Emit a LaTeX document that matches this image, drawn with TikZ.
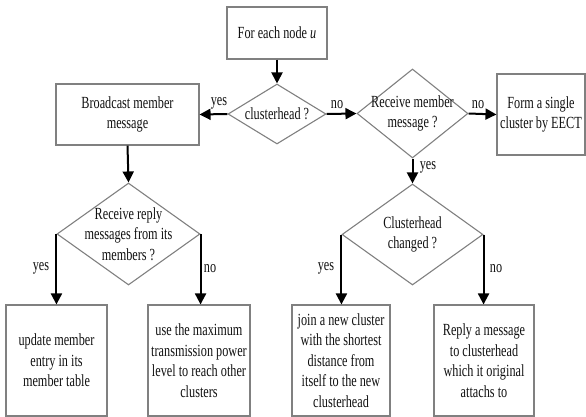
\documentclass[tikz,border=0pt]{standalone}
\usepackage{fontspec}
\setmainfont{Liberation Serif}[FakeStretch=0.72]
\usetikzlibrary{shapes.geometric,arrows.meta}
\definecolor{boxgray}{HTML}{808080}
\definecolor{txtc}{HTML}{111111}
\begin{document}
\begin{tikzpicture}[x=1pt,y=-1pt,
  box/.style={draw=boxgray, line width=1.1pt, rectangle, inner sep=0pt, align=center,
    text=txtc, font=\fontsize{17}{20.5}\selectfont},
  dia/.style={draw=boxgray, line width=1.1pt, diamond, inner sep=0pt},
  txt/.style={align=center, inner sep=0pt, text=txtc, font=\fontsize{17}{20.5}\selectfont},
  arr/.style={draw=black, line width=2pt, -{Triangle[length=11pt,width=11pt]}},
  lab/.style={inner sep=0pt, text=txtc, font=\fontsize{17}{20}\selectfont}]
\useasboundingbox (0,0) rectangle (586,417);

% rectangles
\node[box, minimum width=100pt, minimum height=52pt] (start) at (277,33) {For each node \textit{u}};
\node[box, minimum width=143pt, minimum height=61pt] (bcast) at (127.5,114.5) {Broadcast member\\message};
\node[box, minimum width=88pt, minimum height=81pt] (form) at (541,114.5) {Form a single\\cluster by EECT};
\node[box, minimum width=101pt, minimum height=111pt] (upd) at (56.5,360.5) {update member\\entry in its\\member table};
\node[box, minimum width=102pt, minimum height=111pt] (maxp) at (199,360.5) {use the maximum\\transmission power\\level to reach other\\clusters};
\node[box, minimum width=98pt, minimum height=111pt] (join) at (341,360.5) {join a new cluster\\with the shortest\\distance from\\itself to the new\\clusterhead};
\node[box, minimum width=100pt, minimum height=111pt] (reply) at (484,360.5) {Reply a message\\to clusterhead\\which it original\\attachs to};

% diamonds
\node[dia, minimum width=98pt, minimum height=60pt] (ch) at (277,114) {};
\node[txt] (chT) at (ch.center) {clusterhead ?};
\node[dia, minimum width=111pt, minimum height=89pt] (recv) at (412.5,113.5) {};
\node[txt] (recvT) at (recv.center) {Receive member\\message ?};
\node[dia, minimum width=143pt, minimum height=102pt] (rrep) at (128.5,234) {};
\node[txt] (rrepT) at (rrep.center) {Receive reply\\messages from its\\members ?};
\node[dia, minimum width=141pt, minimum height=101pt] (chg) at (412.5,234.5) {};
\node[txt] (chgT) at (chg.center) {Clusterhead\\changed ?};

% connectors
\draw[arr] (start.south) -- (ch.north);
\draw[arr] (ch.west) -- (bcast.east);
\draw[arr] (ch.east) -- (recv.west);
\draw[arr] (recv.east) -- (form.west);
\draw[arr] (recv.south) -- (chg.north);
\draw[arr] (bcast.south) -- (rrep.north);
\draw[arr] (rrep.west) -- (rrep.west |- upd.north);
\draw[arr] (rrep.east) -- (rrep.east |- maxp.north);
\draw[arr] (chg.west) -- (chg.west |- join.north);
\draw[arr] (chg.east) -- (chg.east |- reply.north);

% labels
\node[lab] (l1) at (219,103) {yes};
\node[lab] (l2) at (337,105) {no};
\node[lab] (l3) at (478,105) {no};
\node[lab] (l4) at (428,167) {yes};
\node[lab] (l5) at (41,268) {yes};
\node[lab] (l6) at (210,269) {no};
\node[lab] (l7) at (326,268) {yes};
\node[lab] (l8) at (496,269) {no};
\end{tikzpicture}
\end{document}
